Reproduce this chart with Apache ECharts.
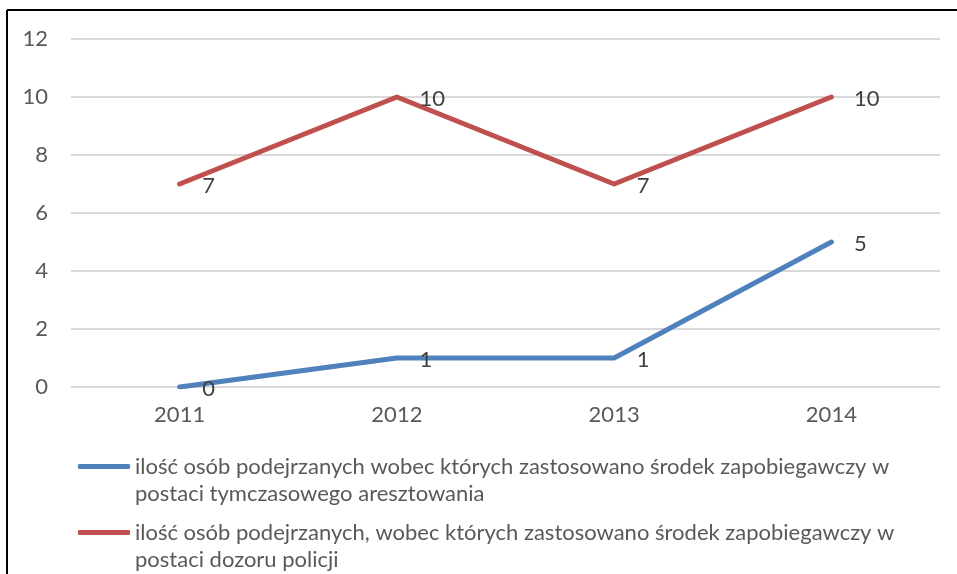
<!DOCTYPE html>
<html>
<head>
<meta charset="utf-8">
<script src="https://cdn.jsdelivr.net/npm/echarts@6/dist/echarts.min.js"></script>
<style>
  html, body { margin: 0; padding: 0; background: #fff; }
  #chart { width: 957px; height: 574px; }
</style>
</head>
<body>
<div id="chart"></div>
<script>
// dane
const years = ['2011', '2012', '2013', '2014'];
const aresztowanie = [0, 1, 1, 5];
const dozor = [7, 10, 7, 10];
const seriesNames = [
    'ilość osób podejrzanych wobec których zastosowano środek zapobiegawczy w\npostaci tymczasowego aresztowania',
    'ilość osób podejrzanych, wobec których zastosowano środek zapobiegawczy w\npostaci dozoru policji'
];
const seriesColors = ['#4F81BD', '#C0504D'];

const FONT = 'Lato';
const FS = 22;

const chart = echarts.init(document.getElementById('chart'), null, { renderer: 'canvas' });

function makeSeries(name, data, color) {
    return {
        name: name,
        type: 'line',
        data: data,
        symbol: 'circle',
        symbolSize: 1,
        itemStyle: { color: 'rgba(0,0,0,0)' },
        lineStyle: { color: color, width: 5, cap: 'round', join: 'round' },
        label: {
            show: true,
            position: 'right',
            distance: 22,
            offset: [0, 2],
            color: '#404040',
            fontFamily: FONT,
            fontSize: FS
        },
        emphasis: { disabled: true },
        animation: false
    };
}

function makeLegend(name, color, top) {
    return {
        data: [{ name: name, itemStyle: { color: color } }],
        left: 78,
        top: top,
        padding: 0,
        itemWidth: 52,
        itemHeight: 5,
        icon: 'roundRect',
        // pusty pierwszy wiersz -> ikona na wysokości pierwszej linii tekstu
        formatter: function (n) { return '\n' + n; },
        textStyle: {
            color: '#595959',
            fontFamily: FONT,
            fontSize: FS,
            lineHeight: 27
        }
    };
}

chart.setOption({
    backgroundColor: '#ffffff',
    grid: { left: 71, right: 17, top: 39, bottom: 187 },
    xAxis: {
        type: 'category',
        data: years,
        boundaryGap: true,
        axisLine: { show: false },
        axisTick: { show: false },
        axisLabel: { color: '#595959', fontFamily: FONT, fontSize: FS, margin: 17 }
    },
    yAxis: {
        type: 'value',
        min: 0,
        max: 12,
        interval: 2,
        axisLine: { show: false },
        axisTick: { show: false },
        splitLine: { lineStyle: { color: '#D9D9D9', width: 2 } },
        axisLabel: { color: '#595959', fontFamily: FONT, fontSize: FS, margin: 23 }
    },
    legend: [
        makeLegend(seriesNames[0], seriesColors[0], 426),
        makeLegend(seriesNames[1], seriesColors[1], 492)
    ],
    graphic: [
        { type: 'line', shape: { x1: 7, y1: 10, x2: 957, y2: 10 }, style: { stroke: '#000', lineWidth: 2 } },
        { type: 'line', shape: { x1: 7, y1: 10, x2: 7, y2: 574 }, style: { stroke: '#000', lineWidth: 2 } }
    ],
    series: [
        makeSeries(seriesNames[0], aresztowanie, seriesColors[0]),
        makeSeries(seriesNames[1], dozor, seriesColors[1])
    ]
});
</script>
</body>
</html>
